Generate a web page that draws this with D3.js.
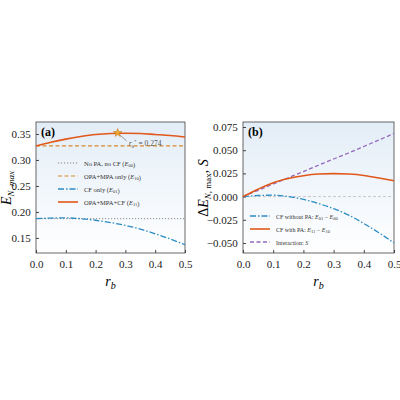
<!DOCTYPE html><html><head><meta charset="utf-8"><script src="https://d3js.org/d3.v7.min.js"></script>
<style>body{margin:0;background:#fff}text{font-family:"Liberation Serif","DejaVu Serif",serif}</style></head><body><svg id="c" width="400" height="400"></svg>
<script>
const rb=[0,0.05,0.1,0.15,0.2,0.25,0.3,0.35,0.4,0.45,0.5];
const E00=[0.187,0.187,0.187,0.187,0.187,0.187,0.187,0.187,0.187,0.187,0.187];
const E10=[0.327,0.327,0.327,0.327,0.327,0.327,0.327,0.327,0.327,0.327,0.327];
const E01=[0.187,0.1882,0.1885,0.187,0.184,0.1795,0.174,0.167,0.158,0.148,0.137];
const E11=[0.327,0.334,0.340,0.345,0.349,0.351,0.3515,0.351,0.349,0.347,0.344];
const D01=[0,0.0012,0.0015,0,-0.003,-0.0075,-0.013,-0.020,-0.029,-0.039,-0.050];
const D11=[0,0.008,0.015,0.0195,0.0225,0.0243,0.0248,0.0243,0.0228,0.020,0.017];
const S=[0,0.0068,0.0136,0.0203,0.027,0.0338,0.0405,0.047,0.054,0.061,0.068];
const xTicks=[0,0.1,0.2,0.3,0.4,0.5];
const yTicksA=[0.15,0.20,0.25,0.30,0.35];
const yTicksB=[-0.050,-0.025,0,0.025,0.050,0.075];
const ORG="#e0581a",BLU="#2b8cc4",PUR="#9467bd",GRY="#888";
const svg=d3.select("#c");
const defs=svg.append("defs");
const g=defs.append("linearGradient").attr("id","bg").attr("x1",0).attr("y1",0).attr("x2",0).attr("y2",1);
g.append("stop").attr("offset",0).attr("stop-color","#e3edf7");g.append("stop").attr("offset",1).attr("stop-color","#ffffff");
function panel(x0,x1,ydom,yt,fmt,label){
  const y0=122,y1=253;
  const x=d3.scaleLinear().domain([0,0.5]).range([x0,x1]);
  const y=d3.scaleLinear().domain(ydom).range([y1,y0]);
  svg.append("rect").attr("x",x0).attr("y",y0).attr("width",x1-x0).attr("height",y1-y0).attr("fill","url(#bg)");
  const ax=svg.append("g").attr("transform",`translate(0,${y1})`).call(d3.axisBottom(x).tickValues(xTicks).tickFormat(d3.format(".1f")).tickSizeInner(-3).tickSizeOuter(0));
  const ay=svg.append("g").attr("transform",`translate(${x0},0)`).call(d3.axisLeft(y).tickValues(yt).tickFormat(fmt).tickSizeInner(-3).tickSizeOuter(0));
  [ax,ay].forEach(a=>{a.selectAll("text").attr("font-size",11).attr("fill","#222");a.selectAll("line").attr("stroke","#444");a.select(".domain").attr("stroke","none");});
  ax.selectAll("text").attr("dy","1.1em");ay.selectAll("text").attr("dx","-0.2em");
  svg.append("rect").attr("x",x0).attr("y",y0).attr("width",x1-x0).attr("height",y1-y0).attr("fill","none").attr("stroke","#444").attr("stroke-width",0.8);
  svg.append("text").attr("x",x0+5).attr("y",y0+14).attr("font-weight","bold").attr("font-size",12).text(label);
  svg.append("text").attr("x",(x0+x1)/2).attr("y",y1+33).attr("text-anchor","middle").attr("font-style","italic").attr("font-size",14).html('r<tspan font-size="10" dy="3">b</tspan>');
  return {x,y};
}
function line(p,data,color,dash,w){
  svg.append("path").datum(rb.map((r,i)=>[r,data[i]])).attr("fill","none").attr("stroke",color).attr("stroke-width",w||1.3).attr("stroke-dasharray",dash)
   .attr("d",d3.line().x(d=>p.x(d[0])).y(d=>p.y(d[1])).curve(d3.curveMonotoneX));
}
function legend(x,y,items,fs){
  items.forEach((it,i)=>{const yy=y+i*13;
    svg.append("line").attr("x1",x).attr("x2",x+20).attr("y1",yy).attr("y2",yy).attr("stroke",it[1]).attr("stroke-dasharray",it[2]).attr("stroke-width",it[3]||1.2);
    svg.append("text").attr("x",x+26).attr("y",yy+2.5).attr("font-size",fs).attr("fill","#333").html(it[0]);});
}
const A=panel(36,185,[0.121,0.373],yTicksA,d3.format(".2f"),"(a)");
svg.append("text").attr("transform","translate(11,188) rotate(-90)").attr("text-anchor","middle").attr("font-style","italic").attr("font-size",14).html('E<tspan font-size="9" dy="3">N, max</tspan>');
line(A,E00,GRY,"1.2,1.8",1);
line(A,E10,"#d98a2b","4,2.5",1.1);
line(A,E01,BLU,"6,2,1.5,2",1.3);
line(A,E11,ORG,null,1.6);
const sx=A.x(0.274),sy=A.y(0.352);
svg.append("line").attr("x1",sx+2).attr("y1",sy+2).attr("x2",sx+9).attr("y2",sy+8).attr("stroke","#777").attr("stroke-width",0.7);
svg.append("path").attr("d",d3.symbol(d3.symbolStar,22)()).attr("transform",`translate(${sx},${sy})`).attr("fill","#f0a830").attr("stroke","#c07010").attr("stroke-width",0.5);
svg.append("text").attr("x",sx+11).attr("y",sy+13).attr("font-size",7.5).attr("fill","#555").html('<tspan font-style="italic">r</tspan><tspan font-size="5" dy="2">b</tspan><tspan font-size="5" dy="-5">*</tspan><tspan dy="3"> = 0.274</tspan>');
legend(58,163,[["No PA, no CF (<tspan font-style='italic'>E</tspan><tspan font-size='4.5' dy='1.5'>00</tspan>)",GRY,"1.2,1.8",1],["OPA+MPA only (<tspan font-style='italic'>E</tspan><tspan font-size='4.5' dy='1.5'>10</tspan>)","#d98a2b","4,2.5"],["CF only (<tspan font-style='italic'>E</tspan><tspan font-size='4.5' dy='1.5'>01</tspan>)",BLU,"6,2,1.5,2",1.4],["OPA+MPA+CF (<tspan font-style='italic'>E</tspan><tspan font-size='4.5' dy='1.5'>11</tspan>)",ORG,null,1.6]],6.5);
const B=panel(243,394,[-0.0608,0.0804],yTicksB,d3.format(".3f"),"(b)");
svg.append("text").attr("transform","translate(208,188) rotate(-90)").attr("text-anchor","middle").attr("font-size",14).html('Δ<tspan font-style="italic">E</tspan><tspan font-size="9" dy="3" font-style="italic">N</tspan><tspan font-size="9">, max</tspan><tspan dy="-3">, </tspan><tspan font-style="italic">S</tspan>');
svg.append("line").attr("x1",243).attr("x2",394).attr("y1",B.y(0)).attr("y2",B.y(0)).attr("stroke","#bbb").attr("stroke-width",0.8).attr("stroke-dasharray","3,2");
line(B,S,PUR,"4,2.5",1.3);
line(B,D01,BLU,"6,2,1.5,2",1.3);
line(B,D11,ORG,null,1.6);
legend(250,216,[["CF without PA: <tspan font-style='italic'>E</tspan><tspan font-size='4.5' dy='1.5'>01</tspan><tspan dy='-1.5'> − </tspan><tspan font-style='italic'>E</tspan><tspan font-size='4.5' dy='1.5'>00</tspan>",BLU,"6,2,1.5,2",1.4],["CF with PA: <tspan font-style='italic'>E</tspan><tspan font-size='4.5' dy='1.5'>11</tspan><tspan dy='-1.5'> − </tspan><tspan font-style='italic'>E</tspan><tspan font-size='4.5' dy='1.5'>10</tspan>",ORG,null,1.6],["Interaction: <tspan font-style='italic'>S</tspan>",PUR,"4,2.5",1.3]],6);
</script></body></html>
